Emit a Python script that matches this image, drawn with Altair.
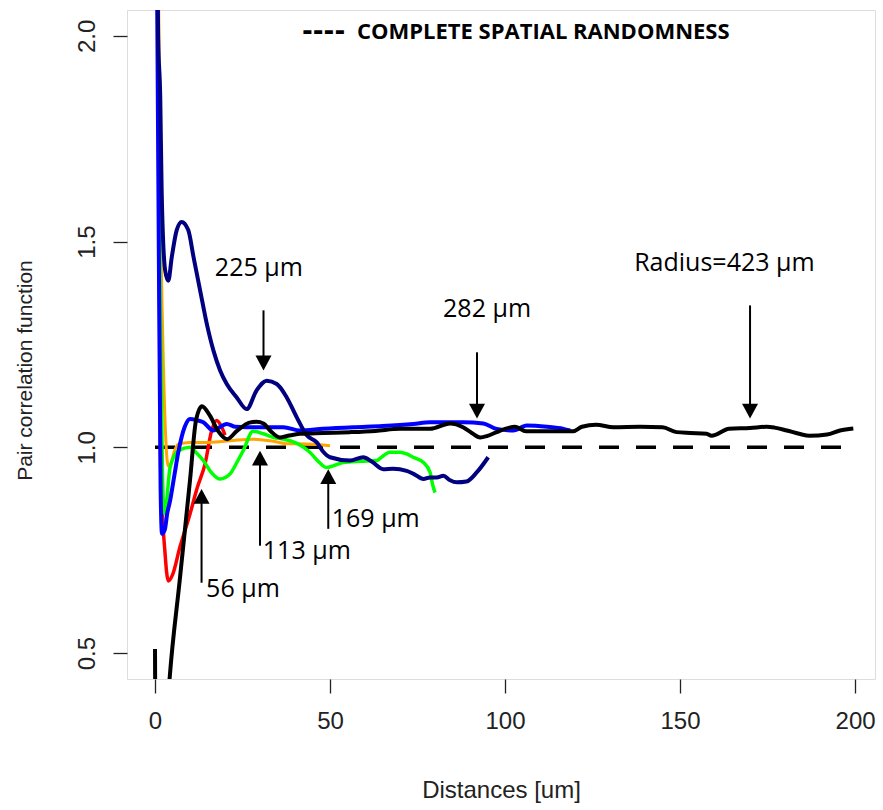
import altair as alt
import pandas as pd

# ---------------- data ----------------
red_x = [0.5, 1.6, 2.8, 3.8, 5.0, 7.1, 10.0, 12.0, 14.3, 16.2, 17.6, 19.0, 20.0]
red_y = [2.5, 0.95, 0.75, 0.675, 0.69, 0.757, 0.838, 0.90, 0.96, 1.041, 1.065, 1.05, 1.03]

orange_x = [0.5, 1.6, 2.4, 3.2, 3.8, 4.5, 5.5, 6.7, 10.0, 14.0, 21.4, 28.0, 33.0, 37.6, 43.3, 50.0]
orange_y = [2.6, 1.55, 1.2, 1.0, 0.955, 0.96, 0.99, 1.008, 1.012, 1.012, 1.016, 1.02, 1.016, 1.009, 1.008, 1.004]

green_x = [0.4, 1.4, 2.1, 2.6, 3.2, 4.3, 6.7, 10.0, 12.0, 13.8, 16.0, 18.6, 21.4, 23.5, 25.2, 28.0,
           31.0, 34.0, 36.7, 41.4, 44.0, 47.0, 49.0, 50.9, 53.8, 58.6, 63.3, 65.0, 67.1, 70.0,
           71.9, 74.0, 76.7, 78.6, 79.3, 80.0]
green_y = [2.6, 1.4, 0.95, 0.84, 0.86, 0.951, 0.992, 1.0, 0.985, 0.968, 0.94, 0.923, 0.935, 0.965,
           0.992, 1.039, 1.033, 1.024, 1.02, 1.006, 0.99, 0.963, 0.951, 0.955, 0.963, 0.966, 0.968,
           0.978, 0.988, 0.988, 0.984, 0.975, 0.963, 0.939, 0.91, 0.89]

blue_x = [0.3, 1.0, 1.6, 2.0, 2.8, 3.5, 4.3, 5.5, 6.7, 8.5, 10.0, 12.0, 13.8, 16.6, 20.5, 23.0, 26.2,
          31.9, 36.7, 41.4, 48.0, 56.7, 65.0, 73.8, 78.6, 88.0, 93.8, 97.6, 102.4, 106.2, 112.0,
          116.7, 118.6]
blue_y = [2.5, 1.6, 0.9, 0.79, 0.80, 0.84, 0.87, 0.93, 0.99, 1.05, 1.069, 1.066, 1.061, 1.041, 1.057,
          1.05, 1.049, 1.049, 1.049, 1.041, 1.045, 1.049, 1.052, 1.057, 1.061, 1.061, 1.058, 1.045,
          1.041, 1.053, 1.05, 1.045, 1.041]

navy_x = [0.3, 0.9, 1.5, 1.9, 2.9, 3.8, 4.8, 6.2, 7.6, 9.5, 11.0, 12.9, 14.8, 16.7, 18.6, 20.5, 23.3,
          26.2, 29.0, 31.9, 34.8, 37.6, 40.5, 43.3, 46.2, 48.0, 50.0, 55.7, 59.5, 62.0, 65.2, 68.0,
          71.9, 74.0, 76.7, 78.6, 80.5, 82.4, 84.3, 86.2, 89.0, 91.9, 95.2]
navy_y = [2.5, 2.0, 1.85, 1.625, 1.43, 1.405, 1.463, 1.528, 1.548, 1.528, 1.463, 1.381, 1.30, 1.235,
          1.187, 1.154, 1.122, 1.093, 1.138, 1.162, 1.154, 1.122, 1.073, 1.03, 1.012, 0.99, 0.976,
          0.968, 0.976, 0.965, 0.947, 0.948, 0.943, 0.935, 0.923, 0.927, 0.927, 0.931, 0.92, 0.915,
          0.917, 0.939, 0.976]

black_x = [0.0, 0.4, 2.0, 4.1, 7.1, 10.0, 11.7, 13.4, 15.7, 18.0, 20.6, 23.4, 27.0, 29.0, 31.0, 33.0,
           35.7, 38.0, 41.4, 48.0, 55.7, 63.0, 70.0, 78.6, 84.3, 88.0, 90.5, 92.9, 95.0, 97.6, 100.0,
           102.9, 106.0, 112.0, 119.5, 122.0, 126.0, 131.0, 138.6, 145.0, 149.0, 153.0, 157.6, 159.0,
           164.0, 170.0, 174.8, 177.0, 180.5, 184.0, 187.0, 192.0, 195.7, 199.5]
black_y = [0.51, 0.0, 0.15, 0.43, 0.68, 0.92, 1.065, 1.10, 1.077, 1.04, 1.02, 1.04, 1.06, 1.062, 1.058,
           1.04, 1.024, 1.028, 1.033, 1.035, 1.037, 1.04, 1.045, 1.045, 1.058, 1.049, 1.035, 1.024,
           1.028, 1.037, 1.045, 1.05, 1.039, 1.039, 1.039, 1.05, 1.055, 1.049, 1.05, 1.049, 1.037,
           1.035, 1.033, 1.028, 1.045, 1.047, 1.05, 1.048, 1.041, 1.033, 1.028, 1.031, 1.041, 1.046]

csr_x = [0, 200]
csr_y = [1.0, 1.0]

# annotations: label, text anchor (x, y), arrow x, arrow start y, arrow tip y
ann_label = ["225 \u03bcm", "282 \u03bcm", "Radius=423 \u03bcm", "56 \u03bcm", "113 \u03bcm", "169 \u03bcm"]
ann_tx = [17.1, 82.3, 136.9, 14.6, 30.8, 50.5]
ann_ty = [1.437, 1.337, 1.447, 0.656, 0.748, 0.826]
arr_x = [31.0, 92.0, 170.0, 13.3, 30.0, 49.5]
arr_y0 = [1.333, 1.231, 1.345, 0.671, 0.761, 0.802]
arr_tip = [1.187, 1.07, 1.07, 0.899, 0.992, 0.947]

legend_dash = "----"
legend_text = "COMPLETE SPATIAL RANDOMNESS"
legend_x = [42.0, 57.7]
legend_y = 2.01

x_ticks = [0, 50, 100, 150, 200]
y_ticks = [0.5, 1.0, 1.5, 2.0]

# ---------------- chart ----------------
W, H = 748, 669
x_scale = alt.Scale(domain=[-8, 205.7], nice=False, zero=False)
y_scale = alt.Scale(domain=[0.437, 2.063], nice=False, zero=False)

axis_font = "Liberation Sans"
ink = "#222222"

x_axis = alt.Axis(values=x_ticks, format="d", domain=False, grid=False, tickSize=14,
                  tickColor="#222222", tickWidth=1.3, labelFont=axis_font, labelFontSize=24,
                  labelColor=ink, labelPadding=16, title="Distances [um]", titleFont=axis_font,
                  titleFontSize=24, titleFontWeight="normal", titleColor=ink, titleY=111,
                  titleBaseline="middle")
y_axis = alt.Axis(values=y_ticks, format=".1f", domain=False, grid=False, tickSize=14,
                  tickColor="#222222", tickWidth=1.3, labelFont=axis_font, labelFontSize=24,
                  labelColor=ink, labelAngle=270, labelAlign="center", labelBaseline="bottom",
                  labelPadding=14, title="Pair correlation function", titleFont=axis_font,
                  titleFontSize=21, titleFontWeight="normal", titleColor=ink, titleX=-102,
                  titleY=360, titleAngle=270, titleAlign="center", titleBaseline="middle")


def series_df(xs, ys):
    return pd.DataFrame({"x": xs, "y": ys, "i": range(len(xs))})


layers = []

# dashed CSR line (also carries the axes)
csr = alt.Chart(series_df(csr_x, csr_y)).mark_line(
    color="black", strokeWidth=3.5, strokeDash=[20, 17], clip=True
).encode(
    x=alt.X("x:Q", scale=x_scale, axis=x_axis),
    y=alt.Y("y:Q", scale=y_scale, axis=y_axis),
)
layers.append(csr)

series = [
    (red_x, red_y, "#FF0000", 3.5),
    (orange_x, orange_y, "#FFA500", 3.0),
    (green_x, green_y, "#00FF00", 3.5),
    (blue_x, blue_y, "#0000FF", 4.0),
    (navy_x, navy_y, "#000080", 4.0),
    (black_x, black_y, "#000000", 4.0),
]
for xs, ys, col, sw in series:
    layers.append(
        alt.Chart(series_df(xs, ys)).mark_line(
            color=col, strokeWidth=sw, clip=True, interpolate="monotone"
        ).encode(
            x=alt.X("x:Q", scale=x_scale), y=alt.Y("y:Q", scale=y_scale), order="i:Q"
        )
    )

ann = pd.DataFrame({"label": ann_label, "tx": ann_tx, "ty": ann_ty,
                    "ax": arr_x, "ay0": arr_y0, "tip": arr_tip})
ann["dir"] = (ann["tip"] > ann["ay0"]).map({True: "up", False: "down"})
ann["shaft_end"] = ann["tip"] - 0.025 * (ann["tip"] - ann["ay0"]).apply(lambda v: 1 if v > 0 else -1)

shafts = alt.Chart(ann).mark_rule(color="black", strokeWidth=2).encode(
    x=alt.X("ax:Q", scale=x_scale), y=alt.Y("ay0:Q", scale=y_scale), y2="shaft_end:Q"
)
heads_up = alt.Chart(ann).transform_filter(alt.datum.dir == "up").mark_point(
    shape="M0,0L-1,1.85L1,1.85Z", filled=True, size=256, color="black", opacity=1
).encode(x=alt.X("ax:Q", scale=x_scale), y=alt.Y("tip:Q", scale=y_scale))
heads_down = alt.Chart(ann).transform_filter(alt.datum.dir == "down").mark_point(
    shape="M0,0L-1,-1.85L1,-1.85Z", filled=True, size=256, color="black", opacity=1
).encode(x=alt.X("ax:Q", scale=x_scale), y=alt.Y("tip:Q", scale=y_scale))
labels = alt.Chart(ann).mark_text(
    font="Open Sans", fontSize=25, align="left", baseline="middle", color="black"
).encode(x=alt.X("tx:Q", scale=x_scale), y=alt.Y("ty:Q", scale=y_scale), text="label:N")

leg_dash = alt.Chart(pd.DataFrame({"x": [legend_x[0]], "y": [legend_y], "t": [legend_dash]})).mark_text(
    font="DejaVu Sans", fontSize=26, fontWeight="bold", align="left", baseline="middle", color="black"
).encode(x=alt.X("x:Q", scale=x_scale), y=alt.Y("y:Q", scale=y_scale), text="t:N")
leg_text = alt.Chart(pd.DataFrame({"x": [legend_x[1]], "y": [legend_y], "t": [legend_text]})).mark_text(
    font="Open Sans", fontSize=22, fontWeight="bold", align="left", baseline="middle", color="black"
).encode(x=alt.X("x:Q", scale=x_scale), y=alt.Y("y:Q", scale=y_scale), text="t:N")

layers += [shafts, heads_up, heads_down, labels, leg_dash, leg_text]

chart = alt.layer(*layers).properties(
    width=W, height=H,
    autosize=alt.AutoSizeParams(type="none"),
    padding={"left": 127, "top": 10, "right": 8, "bottom": 131},
).configure_view(stroke="#222222", strokeWidth=2).configure(background="white")

chart.save("out.html", embed_options={"renderer": "svg", "actions": False})
